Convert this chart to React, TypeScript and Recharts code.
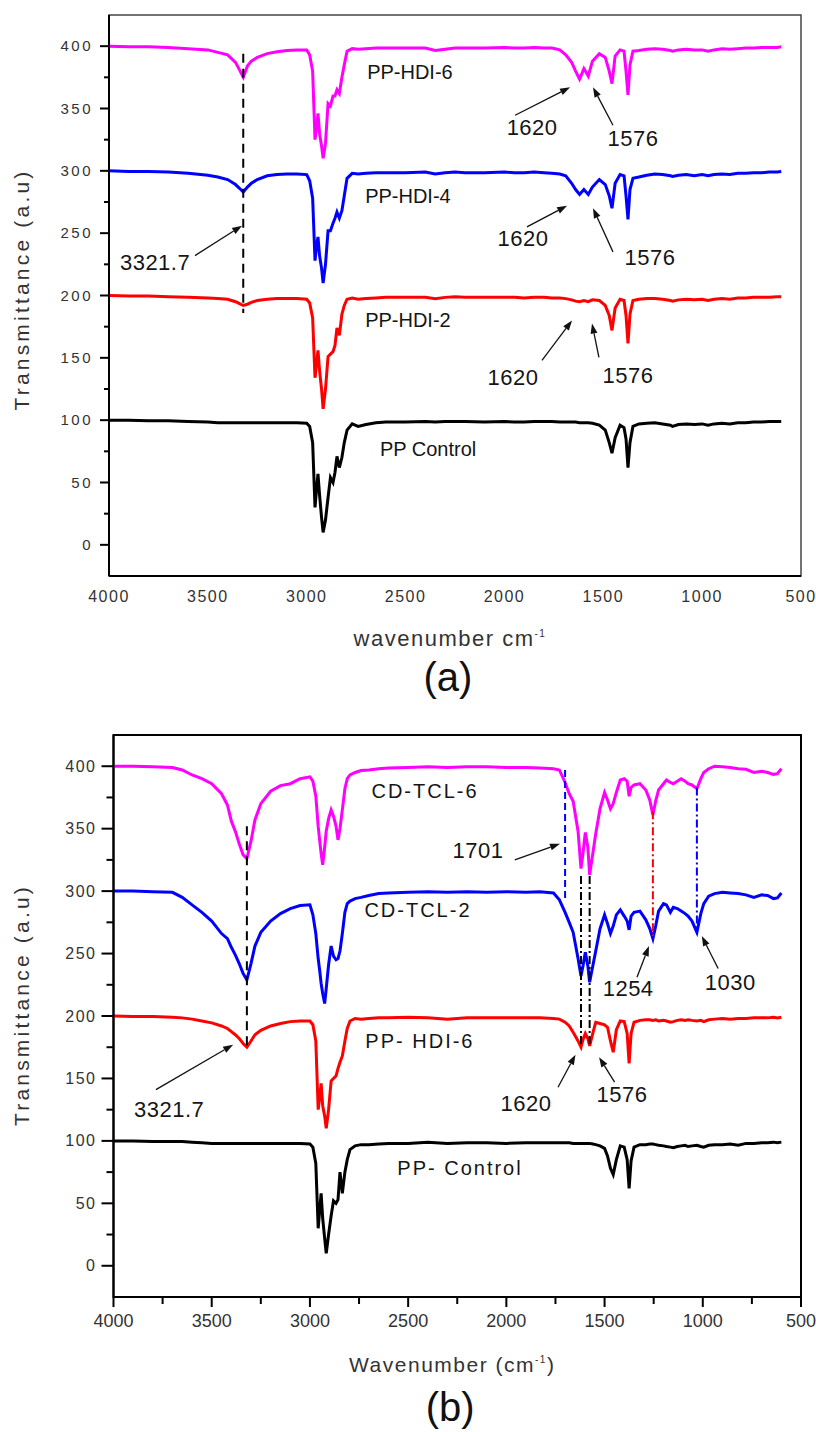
import React from "react";
import { LineChart, Line, XAxis, YAxis, ReferenceLine, ReferenceArea, ReferenceDot } from "recharts";

const FONT = '"Liberation Sans", Arial, Helvetica, sans-serif';

// ---------- panel (a) ----------
const WAVE_A = [
  4000, 3900, 3800, 3700, 3600, 3500, 3450, 3400, 3360, 3340,
  3321, 3300, 3280, 3250, 3200, 3150, 3100, 3050, 3000, 2985,
  2970, 2958, 2950, 2943, 2935, 2925, 2917, 2905, 2892, 2880,
  2867, 2857, 2847, 2835, 2822, 2810, 2796, 2770, 2740, 2700,
  2650, 2600, 2500, 2400, 2350, 2300, 2250, 2200, 2100, 2000,
  1950, 1900, 1850, 1800, 1760, 1720, 1690, 1660, 1640, 1620,
  1598, 1576, 1555, 1520, 1490, 1470, 1456, 1440, 1415, 1395,
  1385, 1375, 1365, 1350, 1320, 1280, 1240, 1200, 1160, 1150,
  1120, 1080, 1040, 1000, 970, 940, 900, 860, 820, 780,
  740, 700, 660, 620, 600,
];

const PP_CONTROL_A = [
  100, 100, 99.5, 99.5, 99, 98.5, 98, 98, 98, 98,
  98, 98, 98, 98, 98, 98, 98, 98, 97.5, 95,
  82, 30, 45, 57, 40, 22, 10, 20, 38, 54,
  50, 58, 71, 62, 70, 82, 92, 97, 95, 96.5,
  98, 98.5, 98.5, 99, 98.5, 99, 99, 99, 98.5, 99,
  98.5, 98.5, 99, 99, 99, 98.5, 98.5, 98.5, 98.5, 98,
  98, 98, 97.5, 96, 92, 82, 73.5, 86, 96, 94,
  85, 62, 82, 95, 97, 97.5, 98, 97, 96, 95,
  96.5, 97, 96.5, 97, 96, 97, 97.5, 97, 98, 98,
  98.5, 98.5, 99, 99, 99,
];

const PP_HDI_2_A = [
  200, 199.5, 199.5, 199, 198.5, 198, 197.5, 197, 195, 193.5,
  192, 193, 194.5, 196, 197, 197.5, 197.5, 197.5, 197, 194,
  182, 134, 145, 156, 140, 125, 109, 125, 151, 153,
  155, 160, 174, 168, 185, 192, 197, 198, 197, 197.5,
  198, 198.5, 198.5, 198.5, 197.5, 198.5, 199, 198.5, 198.5, 198.5,
  198.5, 198, 198.5, 198.5, 198, 198, 197.5, 196.5, 195.5, 195,
  196, 195, 196.5, 196, 192, 184, 172, 190, 197, 196,
  184, 161.5, 185, 196, 197, 197.5, 197.5, 197, 196, 195.5,
  196.5, 197, 196.5, 197, 196, 197, 197.5, 197, 198, 198,
  198.5, 198.5, 198.5, 199, 199,
];

const PP_HDI_4_A = [
  300, 299.5, 299.5, 299, 298, 296.5, 295, 293, 289, 286,
  283, 287, 290, 293, 296, 297, 297.5, 297.5, 297, 292,
  278, 228, 240, 247, 232, 222, 210, 225, 252, 252,
  258, 262, 267, 262, 268, 280, 294, 298, 297.5, 298,
  298.5, 298.5, 298.5, 299, 297.5, 298.5, 299, 298.5, 298.5, 299,
  298.5, 298.5, 299, 298.5, 298, 297.5, 296, 290, 285, 281,
  285, 281, 287, 293, 289, 280, 270, 290, 297, 296,
  280, 261, 285, 294, 295, 296.5, 297.5, 297, 296, 295.5,
  296.5, 297, 296, 297, 296, 297, 297.5, 297, 298, 298,
  298.5, 298.5, 299, 299, 299.5,
];

const PP_HDI_6_A = [
  400, 399.5, 399.5, 399, 398, 397, 395, 393, 387, 381,
  375, 384, 388, 391, 394, 395.5, 396.5, 397, 397, 393,
  380, 325, 335, 346, 330, 320, 310, 322, 354, 352,
  360, 360, 365, 362, 375, 385, 396, 398, 397.5, 398,
  398.5, 398.5, 398.5, 398.5, 396.5, 397.5, 398.5, 398.5, 398.5, 399,
  398.5, 398.5, 399, 398.5, 398.5, 397, 393, 387, 380, 373.5,
  382, 376, 388, 394, 391, 380, 370, 392, 397, 396,
  380, 361, 385, 396, 396.5, 397.5, 398, 397.5, 396.5, 396,
  397, 397.5, 397, 397, 396, 397, 398, 397.5, 398, 398.5,
  398.5, 399, 399, 399, 399.5,
];

// ---------- panel (b) ----------
const WAVE_B = [
  4000, 3900, 3800, 3700, 3650, 3600, 3550, 3500, 3450, 3420,
  3400, 3380, 3360, 3340, 3321, 3300, 3280, 3250, 3200, 3150,
  3100, 3050, 3000, 2985, 2970, 2958, 2950, 2943, 2935, 2925,
  2917, 2905, 2892, 2880, 2867, 2857, 2847, 2835, 2822, 2810,
  2796, 2770, 2740, 2700, 2650, 2600, 2500, 2400, 2300, 2200,
  2100, 2000, 1900, 1830, 1760, 1730, 1701, 1680, 1660, 1635,
  1620, 1610, 1598, 1585, 1576, 1560, 1545, 1523, 1500, 1485,
  1470, 1456, 1440, 1420, 1400, 1385, 1375, 1365, 1350, 1320,
  1290, 1270, 1254, 1240, 1225, 1200, 1185, 1165, 1150, 1130,
  1110, 1090, 1075, 1055, 1030, 1010, 995, 970, 940, 900,
  860, 820, 780, 740, 700, 670, 640, 620, 600,
];

const PP_CONTROL_B = [
  100, 100, 99.5, 99.5, 99.5, 99, 98.5, 98, 98, 98,
  98, 98, 98, 98, 98, 98, 98, 98, 98, 98,
  98, 98, 97.5, 95, 82, 30, 45, 58, 38, 22,
  10, 25, 40, 52, 50, 53, 75, 58, 75, 85,
  93, 96, 97, 97, 97.5, 98, 98, 99, 98, 98.5,
  98.5, 98, 98.5, 98.5, 98.5, 98.5, 98.5, 98.5, 98, 98,
  98, 98, 98, 98, 98, 97.5, 97, 96, 94, 88,
  78, 73, 85, 96, 95, 85, 62, 84, 95, 97,
  97, 97.5, 97.5, 97, 96.5, 96, 95.5, 95, 94.5, 95.5,
  96, 96.5, 95.5, 96, 96.5, 95.5, 95, 96.5, 97, 97,
  97.5, 96.5, 98, 98, 98.5, 98.5, 99, 98.5, 99,
];

const PP_HDI_6_B = [
  200, 199.5, 199.5, 199, 198.5, 197.5, 196, 194.5, 192, 190,
  187.5, 185, 182, 178, 175, 180, 185, 188.5, 192, 194,
  195.5, 196, 196, 193, 180, 125, 135, 146, 128, 120,
  110, 125, 148, 150, 152, 158, 163, 168, 180, 190,
  196, 198, 197.5, 198, 198.5, 198.5, 199, 198.5, 197.5, 198.5,
  198.5, 198.5, 198.5, 198.5, 198, 197.5, 195, 192, 187, 180,
  175, 181, 186, 182, 176, 186, 195, 194, 193, 191,
  180, 171, 189, 196, 195.5, 186, 162, 186, 195, 196.5,
  197, 197, 196.5, 197, 196, 196.5, 196, 195, 195.5, 196.5,
  197, 196.5, 197, 196.5, 196, 196.5, 195.5, 197, 197.5, 198,
  197.5, 198, 198, 198.5, 198.5, 198.5, 199, 198.5, 199,
];

const CD_TCL_2_B = [
  300, 300, 299.5, 299, 295, 289, 283, 276, 266, 262,
  255, 249, 242, 234, 229, 242, 256, 267, 276, 282,
  286, 288.5, 289, 281, 266, 246, 236, 226, 218, 210,
  222, 241, 256, 248, 245, 246, 252, 266, 283, 290,
  292, 294, 295, 296.5, 298, 298.5, 299, 299.5, 299, 299.5,
  299, 299.5, 299, 299.5, 298.5, 293, 283, 275, 267, 246,
  232, 240, 251, 240, 227, 240, 252, 270, 281, 274,
  266, 272, 281, 285, 280, 276, 269, 280, 283, 284,
  277, 270, 262, 272, 284, 290, 289, 283, 287, 286,
  284, 282, 280, 276, 267, 282, 290, 296, 298, 299,
  298.5, 298, 297, 295, 297, 296.5, 294, 294.5, 298.5,
];

const CD_TCL_6_B = [
  400, 400, 399.5, 399, 397, 393, 390, 386, 378, 369,
  356, 348, 338, 329, 326, 340, 357, 370, 380, 384.5,
  386, 390, 391.5, 388, 376, 352, 340, 330, 321, 335,
  348, 358, 365, 360, 352, 341, 350, 365, 382, 390,
  393, 395, 396.5, 397, 398, 398.5, 399, 399.5, 399, 399.5,
  399.5, 399, 399, 398.5, 398, 397, 387, 378, 372, 348,
  318, 330, 347, 335, 313, 330, 346, 366, 379, 373,
  366, 370, 379, 389, 390, 388, 376, 383, 385, 386,
  381, 373, 361, 372, 381, 386, 389, 387, 386, 388,
  390, 388, 386, 385, 382, 390, 395, 398, 400, 399.5,
  399, 398, 397.5, 395, 396, 395, 393.5, 394, 398,
];

// ---------- axes ----------
const Y_TICKS = [0, 25, 50, 75, 100, 125, 150, 175, 200, 225, 250, 275, 300, 325, 350, 375, 400];
const X_TICKS_A = [4000, 3500, 3000, 2500, 2000, 1500, 1000, 500];
const X_TICKS_B = [4000, 3750, 3500, 3250, 3000, 2750, 2500, 2250, 2000, 1750, 1500, 1250, 1000, 750, 500];

// ---------- annotations (data coordinates) ----------
const LABELS_A = [
  { text: "PP-HDI-6", w: 2478, v: 379 },
  { text: "PP-HDI-4", w: 2488, v: 280 },
  { text: "PP-HDI-2", w: 2488, v: 180 },
  { text: "PP Control", w: 2386, v: 77 },
];
const PEAKS_A = [
  { text: "3321.7", w: 3767, v: 227 },
  { text: "1620", w: 1860, v: 335 },
  { text: "1576", w: 1350, v: 326 },
  { text: "1620", w: 1906, v: 246 },
  { text: "1576", w: 1264, v: 231 },
  { text: "1620", w: 1957, v: 134 },
  { text: "1576", w: 1375, v: 136 },
];
const ARROWS_A = [
  { from: [3565, 232], to: [3327, 256] },
  { from: [1946, 344.6], to: [1668, 367] },
  { from: [1451, 336.6], to: [1552, 367] },
  { from: [1886, 255], to: [1683, 272] },
  { from: [1451, 235], to: [1552, 270] },
  { from: [1810, 148], to: [1658, 180] },
  { from: [1522, 150.4], to: [1557, 177.5] },
];
const GUIDES_A = [{ w: 3321, top: 394, bottom: 186, color: "#000", dash: "9 6" }];

const LABELS_B = [
  { text: "CD-TCL-6", w: 2414, v: 380 },
  { text: "CD-TCL-2", w: 2450, v: 284.5 },
  { text: "PP- HDI-6", w: 2440, v: 180 },
  { text: "PP- Control", w: 2236, v: 78 },
];
const PEAKS_B = [
  { text: "1701", w: 2144, v: 333 },
  { text: "1254", w: 1380, v: 222 },
  { text: "1030", w: 860, v: 227 },
  { text: "1620", w: 1900, v: 130 },
  { text: "1576", w: 1411, v: 137 },
  { text: "3321.7", w: 3717, v: 125 },
];
const ARROWS_B = [
  { from: [1957, 325], to: [1727, 338] },
  { from: [1335, 231], to: [1274, 256] },
  { from: [922, 238], to: [1005, 264] },
  { from: [1737, 143], to: [1648, 169] },
  { from: [1449, 147], to: [1528, 167] },
  { from: [3784, 141], to: [3391, 177] },
];
const GUIDES_B = [
  { w: 3321, top: 352, bottom: 175, color: "#000", dash: "9 6" },
  { w: 1701, top: 397, bottom: 292, color: "#0000ff", dash: "7 4" },
  { w: 1620, top: 312, bottom: 176, color: "#000", dash: "8 3 2 3" },
  { w: 1576, top: 312, bottom: 176, color: "#000", dash: "8 3 2 3" },
  { w: 1254, top: 364, bottom: 262, color: "#ff0000", dash: "8 3 2 3" },
  { w: 1030, top: 383, bottom: 268, color: "#0000ff", dash: "8 3 2 3" },
];

const rowsA = WAVE_A.map((w, i) => ({
  w,
  control: PP_CONTROL_A[i],
  hdi2: PP_HDI_2_A[i],
  hdi4: PP_HDI_4_A[i],
  hdi6: PP_HDI_6_A[i],
}));

const rowsB = WAVE_B.map((w, i) => ({
  w,
  control: PP_CONTROL_B[i],
  hdi6: PP_HDI_6_B[i],
  tcl2: CD_TCL_2_B[i],
  tcl6: CD_TCL_6_B[i],
}));

const SERIES_A = [
  { key: "control", color: "#000000" },
  { key: "hdi2", color: "#ff0000" },
  { key: "hdi4", color: "#0000ff" },
  { key: "hdi6", color: "#ff00ff" },
];
const SERIES_B = [
  { key: "control", color: "#000000" },
  { key: "hdi6", color: "#ff0000" },
  { key: "tcl2", color: "#0000ff" },
  { key: "tcl6", color: "#ff00ff" },
];

// arrow drawn from segment start to segment end, head at the end
function ArrowShape(props: any) {
  const { x1, y1, x2, y2 } = props;
  const a = Math.atan2(y2 - y1, x2 - x1);
  const len = 10;
  const half = 3.5;
  const bx = x2 - len * Math.cos(a);
  const by = y2 - len * Math.sin(a);
  const px = -Math.sin(a) * half;
  const py = Math.cos(a) * half;
  return (
    <g>
      <line x1={x1} y1={y1} x2={bx} y2={by} stroke="#111" strokeWidth={1.3} />
      <polygon points={`${x2},${y2} ${bx + px},${by + py} ${bx - px},${by - py}`} fill="#111" />
    </g>
  );
}

const textShape = (text: string, size: number, spacing: number) => (p: any) => (
  <text
    x={p.cx}
    y={p.cy}
    dy="0.35em"
    textAnchor="middle"
    fontSize={size}
    letterSpacing={spacing}
    fontFamily={FONT}
    fill="#151515"
  >
    {text}
  </text>
);

type PanelProps = {
  rows: any[];
  series: { key: string; color: string }[];
  labels: { text: string; w: number; v: number }[];
  peaks: { text: string; w: number; v: number }[];
  arrows: { from: number[]; to: number[] }[];
  guides: { w: number; top: number; bottom: number; color: string; dash: string }[];
  xTicks: number[];
  height: number;
  left: number;
  bottom: number;
  frameColor: string;
  frameWidth: number;
  xTickLen: number[] | null;
  xTickFont: number;
  xTickSpacing: number;
  xTickGap: number;
  yTickLen: number[];
  yTickFont: number;
  yTickSpacing: number;
  yTickGap: number;
  labelSpacing: number;
  title: React.ReactNode;
  titleGap: number;
  titleFont: number;
  caption: string;
  captionGap: number;
  yTitleShift: number;
};

function Panel(p: PanelProps) {
  const yTick = (props: any) => {
    const { x, y, payload } = props;
    const major = payload.value % 50 === 0;
    return (
      <g>
        <line x1={x - (major ? p.yTickLen[0] : p.yTickLen[1])} x2={x} y1={y} y2={y} stroke="#000" strokeWidth={2} />
        {major && (
          <text
            x={x - p.yTickGap}
            y={y}
            dy="0.35em"
            textAnchor="end"
            fontSize={p.yTickFont}
            letterSpacing={p.yTickSpacing}
            fontFamily={FONT}
            fill="#333"
          >
            {payload.value}
          </text>
        )}
      </g>
    );
  };

  const xTick = (props: any) => {
    const { x, y, payload } = props;
    const major = payload.value % 500 === 0;
    return (
      <g>
        {p.xTickLen && (
          <line x1={x} x2={x} y1={y} y2={y + (major ? p.xTickLen[0] : p.xTickLen[1])} stroke="#000" strokeWidth={2} />
        )}
        {major && (
          <text
            x={x}
            y={y + p.xTickGap}
            dy="0.35em"
            textAnchor="middle"
            fontSize={p.xTickFont}
            letterSpacing={p.xTickSpacing}
            fontFamily={FONT}
            fill="#333"
          >
            {payload.value}
          </text>
        )}
      </g>
    );
  };

  const xTitle = (lp: any) => {
    const vb = lp.viewBox;
    const cx = vb.x + vb.width / 2 - 5;
    return (
      <g>
        <text
          x={cx}
          y={vb.y + p.titleGap}
          dy="0.35em"
          textAnchor="middle"
          fontSize={p.titleFont}
          letterSpacing={1.5}
          fontFamily={FONT}
          fill="#333"
        >
          {p.title}
        </text>
        <text x={cx - 2} y={vb.y + p.captionGap} dy="0.35em" textAnchor="middle" fontSize={40} fontFamily={FONT} fill="#111">
          {p.caption}
        </text>
      </g>
    );
  };

  const yTitle = (lp: any) => {
    const vb = lp.viewBox;
    const cy = vb.y + vb.height / 2 + p.yTitleShift;
    return (
      <text
        x={22}
        y={cy}
        dy="0.35em"
        textAnchor="middle"
        transform={`rotate(-90, 22, ${cy})`}
        fontSize={21}
        letterSpacing={3.2}
        fontFamily={FONT}
        fill="#333"
      >
        Transmittance (a.u)
      </text>
    );
  };

  return (
    <LineChart
      width={816}
      height={p.height}
      data={p.rows}
      margin={{ top: 15, right: 15, bottom: p.bottom, left: 0 }}
    >
      <ReferenceArea
        x1={4000}
        x2={500}
        y1={-25}
        y2={425}
        fill="none"
        fillOpacity={0}
        stroke={p.frameColor}
        strokeWidth={p.frameWidth}
      />
      <XAxis
        dataKey="w"
        type="number"
        domain={[500, 4000]}
        reversed
        ticks={p.xTicks}
        interval={0}
        height={30}
        tickSize={0}
        tickMargin={0}
        tickLine={false}
        tick={xTick}
        axisLine={{ stroke: "#000", strokeWidth: 2 }}
        allowDataOverflow
        label={{ content: xTitle }}
      />
      <YAxis
        type="number"
        domain={[-25, 425]}
        ticks={Y_TICKS}
        interval={0}
        width={p.left}
        tickSize={0}
        tickMargin={0}
        tickLine={false}
        tick={yTick}
        axisLine={{ stroke: "#000", strokeWidth: 2 }}
        allowDataOverflow
        label={{ content: yTitle }}
      />
      {p.series.map((s) => (
        <Line
          key={s.key}
          dataKey={s.key}
          type="linear"
          stroke={s.color}
          strokeWidth={3}
          dot={false}
          activeDot={false}
          isAnimationActive={false}
        />
      ))}
      {p.guides.map((g, i) => (
        <ReferenceLine
          key={`g${i}`}
          segment={[
            { x: g.w, y: g.top },
            { x: g.w, y: g.bottom },
          ]}
          stroke={g.color}
          strokeWidth={2}
          strokeDasharray={g.dash}
        />
      ))}
      {p.arrows.map((a, i) => (
        <ReferenceLine
          key={`a${i}`}
          segment={[
            { x: a.from[0], y: a.from[1] },
            { x: a.to[0], y: a.to[1] },
          ]}
          shape={ArrowShape}
        />
      ))}
      {p.labels.map((l, i) => (
        <ReferenceDot key={`l${i}`} x={l.w} y={l.v} r={1} shape={textShape(l.text, 20, p.labelSpacing)} />
      ))}
      {p.peaks.map((l, i) => (
        <ReferenceDot key={`n${i}`} x={l.w} y={l.v} r={1} shape={textShape(l.text, 22, 0.5)} />
      ))}
    </LineChart>
  );
}

export default function App() {
  return (
    <div style={{ position: "absolute", left: 0, top: 0, width: 816, height: 1432, background: "#fff" }}>
      <div style={{ position: "absolute", left: 0, top: 0 }}>
        <Panel
          rows={rowsA}
          series={SERIES_A}
          labels={LABELS_A}
          peaks={PEAKS_A}
          arrows={ARROWS_A}
          guides={GUIDES_A}
          xTicks={X_TICKS_A}
          height={700}
          left={109}
          bottom={94}
          frameColor="#444"
          frameWidth={1.5}
          xTickLen={null}
          xTickFont={16}
          xTickSpacing={1.5}
          xTickGap={20}
          yTickLen={[9, 5]}
          yTickFont={15}
          yTickSpacing={2.5}
          yTickGap={16}
          labelSpacing={0}
          title={
            <>
              wavenumber cm
              <tspan dy={-9} fontSize={10}>
                -1
              </tspan>
            </>
          }
          titleGap={62}
          titleFont={22}
          caption="(a)"
          captionGap={101}
          yTitleShift={-6}
        />
      </div>
      <div style={{ position: "absolute", left: 0, top: 720 }}>
        <Panel
          rows={rowsB}
          series={SERIES_B}
          labels={LABELS_B}
          peaks={PEAKS_B}
          arrows={ARROWS_B}
          guides={GUIDES_B}
          xTicks={X_TICKS_B}
          height={712}
          left={113.5}
          bottom={105}
          frameColor="#000"
          frameWidth={2}
          xTickLen={[10, 7]}
          xTickFont={18}
          xTickSpacing={0}
          xTickGap={24}
          yTickLen={[12, 7]}
          yTickFont={16}
          yTickSpacing={1.5}
          yTickGap={17}
          labelSpacing={2}
          title={
            <>
              Wavenumber (cm
              <tspan dy={-9} fontSize={10}>
                -1
              </tspan>
              <tspan dy={9}>)</tspan>
            </>
          }
          titleGap={68}
          titleFont={21}
          caption="(b)"
          captionGap={110}
          yTitleShift={-11}
        />
      </div>
    </div>
  );
}
